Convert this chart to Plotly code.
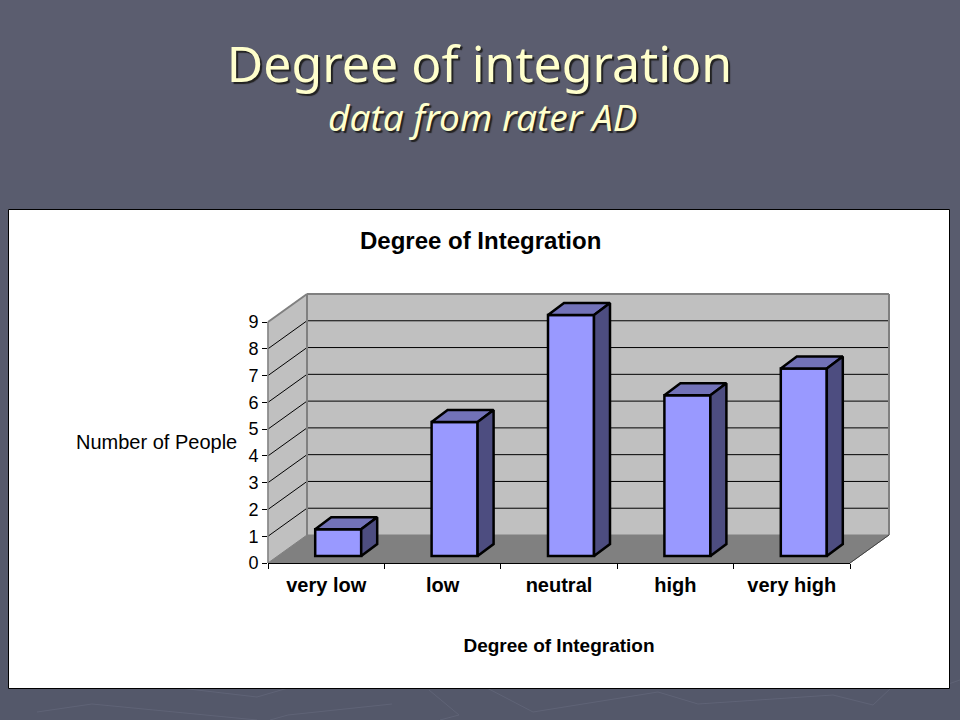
import plotly.graph_objects as go

categories = ["very low", "low", "neutral", "high", "very high"]
people = [1, 5, 9, 6, 7]
y_ticks = list(range(10))
slide_title = "Degree of integration"
slide_subtitle = "data from rater AD"
chart_title = "Degree of Integration"
x_title = "Degree of Integration"
y_title = "Number of People"

W, H = 960, 720
PX_L, PX_R, PX_B, PX_T = 268, 850, 563, 322
UX = (PX_R - PX_L) / 5
UY = (PX_B - PX_T) / 9
px = lambda d: d / UX
py = lambda d: d / UY
WALL_DX, WALL_DY = px(39), py(28)
BAR_DX, BAR_DY = px(12), py(7)
DEPTH_DX, DEPTH_DY = px(16), py(12)
BAR_W = px(46)
X0, X1, Y0, Y1 = -0.5, 4.5, 0, 9
Y_TOP = 11
EDGE = "#808080"
WALL = "#C0C0C0"

# axis units to page fractions, for the chart furniture drawn below the traces
fx = lambda x: (PX_L + (x - X0) * UX) / W
fy = lambda y: 1 - (PX_B - y * UY) / H
pgx = lambda p: p / W
pgy = lambda p: 1 - p / H

shapes = []
bands = ["#5B5D6F", "#5A5C6E", "#595C6E", "#585B6D", "#575A6C", "#56596B", "#55596B", "#54586A"]
for k, c in enumerate(bands):
    shapes.append(dict(type="rect", xref="paper", yref="paper", x0=0, x1=1,
                       y0=1 - (k + 1) / len(bands), y1=1 - k / len(bands),
                       fillcolor=c, line_width=0, layer="below"))

deco = [
    [(37, 712), (92, 704), (257, 720)],
    [(487, 688), (533, 712), (658, 692), (698, 704), (833, 695), (873, 705), (891, 688)],
    [(429, 690), (459, 715), (440, 720)],
    [(392, 704), (288, 715), (270, 720)],
    [(180, 688), (257, 697), (288, 688)],
    [(937, 688), (960, 680)],
]
for pts in deco:
    d = "M" + " L".join(f"{pgx(x):.5f},{pgy(y):.5f}" for x, y in pts)
    shapes.append(dict(type="path", xref="paper", yref="paper", path=d,
                       line=dict(color="#5F6376", width=1), layer="below"))

# white chart panel
shapes.append(dict(type="rect", xref="paper", yref="paper", x0=pgx(8.5), x1=pgx(949.5),
                   y0=pgy(688.5), y1=pgy(209.5), fillcolor="white",
                   line=dict(color="black", width=1), layer="below"))

def poly(pts, fill):
    d = "M" + " L".join(f"{fx(x):.5f},{fy(y):.5f}" for x, y in pts) + " Z"
    shapes.append(dict(type="path", xref="paper", yref="paper", path=d, fillcolor=fill,
                       line=dict(color=fill, width=1), layer="below"))

def seg(xa, ya, xb, yb, color="black", w=1):
    shapes.append(dict(type="line", xref="paper", yref="paper", x0=fx(xa), y0=fy(ya), x1=fx(xb), y1=fy(yb),
                       line=dict(color=color, width=w), layer="below"))

poly([(X0, Y0), (X0 + WALL_DX, WALL_DY), (X0 + WALL_DX, Y1 + WALL_DY), (X0, Y1)], WALL)
poly([(X0 + WALL_DX, WALL_DY), (X1 + WALL_DX, WALL_DY), (X1 + WALL_DX, Y1 + WALL_DY), (X0 + WALL_DX, Y1 + WALL_DY)], WALL)
poly([(X0, Y0), (X1, Y0), (X1 + WALL_DX, WALL_DY), (X0 + WALL_DX, WALL_DY)], EDGE)
for v in y_ticks[1:-1]:
    seg(X0, v, X0 + WALL_DX, v + WALL_DY)
    seg(X0 + WALL_DX, v + WALL_DY, X1 + WALL_DX, v + WALL_DY)
seg(X0, Y1, X0 + WALL_DX, Y1 + WALL_DY, EDGE, 2)
seg(X0 + WALL_DX, Y1 + WALL_DY, X1 + WALL_DX, Y1 + WALL_DY, EDGE, 2)
seg(X1 + WALL_DX, Y1 + WALL_DY, X1 + WALL_DX, WALL_DY, EDGE, 2)
seg(X0 + WALL_DX, WALL_DY, X0 + WALL_DX, Y1 + WALL_DY, EDGE, 2)
seg(X0, Y0, X0, Y1, EDGE, 1.5)
seg(X1, Y0, X1 + WALL_DX, WALL_DY, "#404040", 1)

fig = go.Figure()
xs = list(range(len(categories)))
fig.add_trace(go.Bar(x=[i + BAR_DX for i in xs], y=people, base=BAR_DY, width=BAR_W,
                     marker=dict(color="#9999FF", line=dict(color="black", width=2.5)), showlegend=False))
for i, v in zip(xs, people):
    l = i + BAR_DX - BAR_W / 2
    r = i + BAR_DX + BAR_W / 2
    top = v + BAR_DY
    fig.add_trace(go.Scatter(x=[l, r, r + DEPTH_DX, l + DEPTH_DX, l], y=[top, top, top + DEPTH_DY, top + DEPTH_DY, top],
                             mode="lines", fill="toself", fillcolor="#7272B8", line=dict(color="black", width=2.5),
                             showlegend=False))
    fig.add_trace(go.Scatter(x=[r, r + DEPTH_DX, r + DEPTH_DX, r, r], y=[BAR_DY, BAR_DY + DEPTH_DY, top + DEPTH_DY, top, BAR_DY],
                             mode="lines", fill="toself", fillcolor="#4D4D80", line=dict(color="black", width=2.5),
                             showlegend=False))

AXF = "Liberation Sans"
SHADOW = "2px 2px 1px #222"
anns = [
    dict(text=f"<i>{slide_subtitle}</i>", x=483, y=117, size=37, font="Noto Sans", color="#FFFFCC", shadow=SHADOW),
    dict(text=f"<b>{chart_title}</b>", x=480, y=241, size=24, font=AXF, color="black", shadow="none"),
    dict(text=y_title, x=156.5, y=442, size=20, font=AXF, color="black", shadow="none"),
]
annotations = [dict(xref="paper", yref="paper", x=pgx(a["x"]), y=pgy(a["y"]),
                    xanchor="center", yanchor="middle", showarrow=False, text=a["text"],
                    font=dict(family=a["font"], size=a["size"], color=a["color"], shadow=a["shadow"]))
               for a in anns]

fig.update_layout(
    width=W, height=H, autosize=False, paper_bgcolor="#565A6B", plot_bgcolor="rgba(0,0,0,0)",
    margin=dict(l=0, r=0, t=0, b=0), showlegend=False, shapes=shapes, annotations=annotations,
    title=dict(text=slide_title, x=479.5/W, y=1-64/H, xanchor="center", yanchor="middle",
               font=dict(family="Noto Sans", size=50, color="#FFFFCC", shadow=SHADOW)),
    xaxis=dict(domain=[PX_L/W, PX_R/W], range=[X0, X1], tickmode="array", tickvals=xs, ticktext=categories,
               automargin=False, ticks="", showgrid=False, zeroline=False, showline=True, linecolor="black", linewidth=1,
               tickfont=dict(family=AXF, size=20, color="black", weight=600), ticklabelstandoff=4,
               minor=dict(tickmode="array", tickvals=[i - 0.5 for i in xs] + [X1], ticks="outside",
                          ticklen=5, tickcolor="black", tickwidth=1, showgrid=False),
               title=dict(text=f"<b>{x_title}</b>", standoff=43, font=dict(family=AXF, size=19, color="black"))),
    yaxis=dict(domain=[1-PX_B/H, 1-(PX_B-Y_TOP*UY)/H], range=[Y0, Y_TOP], tickmode="array", tickvals=y_ticks,
               automargin=False, ticks="outside", ticklen=5, tickcolor="black", tickwidth=1, showgrid=False,
               zeroline=False, showline=False, tickfont=dict(family=AXF, size=18, color="black")),
)
fig.write_html("out.html", config={"displayModeBar": False},
               post_script="document.body.style.margin='0';document.body.style.overflow='hidden';")
